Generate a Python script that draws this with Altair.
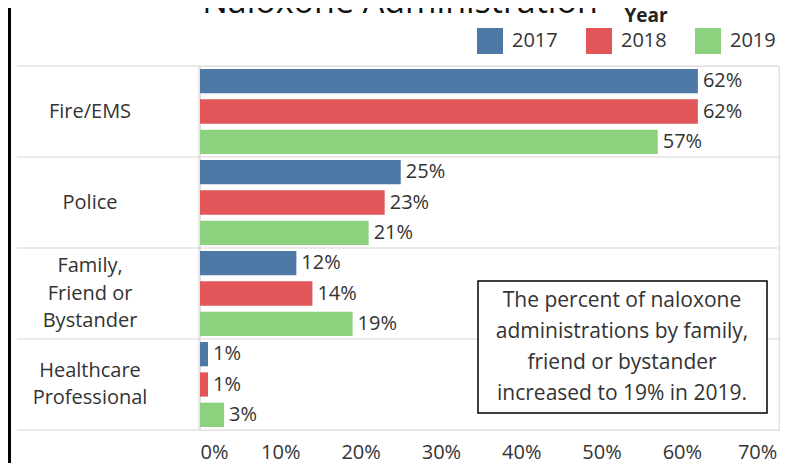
import altair as alt
import pandas as pd

# ---------------- data ----------------
categories = ["Fire/EMS", "Police", "Family,\nFriend or\nBystander", "Healthcare\nProfessional"]
years = ["2017", "2018", "2019"]
pct_2017 = [0.62, 0.25, 0.12, 0.01]
pct_2018 = [0.62, 0.23, 0.14, 0.01]
pct_2019 = [0.57, 0.21, 0.19, 0.03]
year_colors = ["#4e79a7", "#e15759", "#8cd17d"]
x_ticks = [0.0, 0.1, 0.2, 0.3, 0.4, 0.5, 0.6, 0.7]
chart_title = "Naloxone Administration"
legend_title = "Year"
note_text = "The percent of naloxone\nadministrations by family,\nfriend or bystander\nincreased to 19% in 2019."

FONT = "Open Sans"
TXT = "#333333"
FS = 20
W, H = 579, 364

keys = [f"{ci}|{y}" for ci in range(len(categories)) for y in years]
rows = []
for y, vals in zip(years, [pct_2017, pct_2018, pct_2019]):
    for ci, (c, v) in enumerate(zip(categories, vals)):
        rows.append({"cat": c, "year": y, "pct": v, "key": f"{ci}|{y}"})
df = pd.DataFrame(rows)
cat_df = pd.DataFrame({"cat": categories})
cat_df["nlines"] = cat_df["cat"].str.count("\n") + 1
one = pd.DataFrame({"k": [0]})

yscale = alt.Scale(domain=keys, paddingInner=0.2, paddingOuter=0.1)
cscale = alt.Scale(domain=categories, paddingInner=0, paddingOuter=0)


def yk(**kw):
    return alt.Y("key:N", sort=keys, scale=yscale, axis=None, **kw)


def yc(**kw):
    return alt.Y("cat:N", sort=categories, scale=cscale, axis=None, **kw)


x_enc = alt.X("pct:Q",
              scale=alt.Scale(domain=[0, 0.721], nice=False, zero=True),
              axis=alt.Axis(values=x_ticks, format=".0%", title=None, grid=False,
                            ticks=False, domain=False, labelFontSize=FS, labelFont=FONT,
                            labelColor=TXT, labelPadding=12, labelFlush=10,
                            labelOffset={"condition": {"test": "datum.value >= 0.69", "value": -5},
                                         "value": 0}))
color_enc = alt.Color("year:N", sort=years,
                      scale=alt.Scale(domain=years, range=year_colors),
                      legend=alt.Legend(orient="none", legendX=277, legendY=-38,
                                        direction="horizontal", title=None,
                                        symbolType="square", symbolSize=676,
                                        symbolStrokeWidth=0, symbolOpacity=1,
                                        labelFontSize=FS, labelFont=FONT, labelColor=TXT,
                                        labelOffset=9, columnPadding=28, padding=0))

bars = alt.Chart(df).mark_bar(opacity=1).encode(x=x_enc, y=yk(), color=color_enc)

labels = alt.Chart(df).mark_text(align="left", baseline="middle", dx=5, fontSize=FS,
                                 font=FONT, color=TXT).encode(
    x="pct:Q", y=yk(), text=alt.Text("pct:Q", format=".0%"))

LH = 27.5
header_layers = []
for n in sorted(cat_df["nlines"].unique()):
    sub = cat_df[cat_df["nlines"] == n]
    header_layers.append(
        alt.Chart(sub).mark_text(align="center", baseline="middle", lineBreak="\n",
                                 lineHeight=LH, dy=-(n - 1) * LH / 2, fontSize=FS,
                                 font=FONT, color=TXT).encode(
            x=alt.value(-110), y=yc(), text="cat:N"))

sep = alt.Chart(cat_df).mark_rule(color="#e3e3e3", strokeWidth=1.5).encode(
    y=yc(bandPosition=0), x=alt.value(-183), x2=alt.value(W))

bottom_sep = alt.Chart(one).mark_rule(color="#e3e3e3", strokeWidth=1.5).encode(
    y=alt.value(H), x=alt.value(-183), x2=alt.value(W))

header_div = alt.Chart(one).mark_rule(color="#d2d2d2", strokeWidth=1).encode(
    x=alt.value(-1), y=alt.value(0), y2=alt.value(H))

right_border = alt.Chart(one).mark_rule(color="#e3e3e3", strokeWidth=1).encode(
    x=alt.value(W), y=alt.value(0), y2=alt.value(H))

left_border = alt.Chart(one).mark_rule(color="#000000", strokeWidth=4).encode(
    x=alt.value(-191), y=alt.value(-75), y2=alt.value(H + 50))

title = alt.Chart(pd.DataFrame({"t": [chart_title]})).mark_text(
    align="center", baseline="alphabetic", fontSize=34, font=FONT, color="#111111").encode(
    x=alt.value(200), y=alt.value(-53), text="t:N")

year_title = alt.Chart(pd.DataFrame({"t": [legend_title]})).mark_text(
    align="center", baseline="middle", fontSize=19, fontWeight="bold", font=FONT,
    color="#222222").encode(x=alt.value(446), y=alt.value(-50), text="t:N")

note_box = alt.Chart(one).mark_rect(fill="white", stroke="#000000", strokeWidth=1.5).encode(
    x=alt.value(278), x2=alt.value(567), y=alt.value(215), y2=alt.value(347))

NLH = 31
note = alt.Chart(pd.DataFrame({"t": [note_text]})).mark_text(
    align="center", baseline="middle", lineBreak="\n", lineHeight=NLH, fontSize=21,
    font=FONT, color=TXT, dy=-1.5 * NLH).encode(x=alt.value(422), y=alt.value(281), text="t:N")

chart = alt.layer(sep, bottom_sep, header_div, right_border, left_border, bars, labels,
                  *header_layers, note_box, note, title, year_title).resolve_scale(
    y="independent").properties(
    width=W, height=H,
    autosize=alt.AutoSizeParams(type="none"),
    padding={"left": 192, "top": 58, "right": 1, "bottom": 33},
).configure_view(stroke=None).configure(background="white")

chart.save("out.html", embed_options={"renderer": "svg", "actions": False})
